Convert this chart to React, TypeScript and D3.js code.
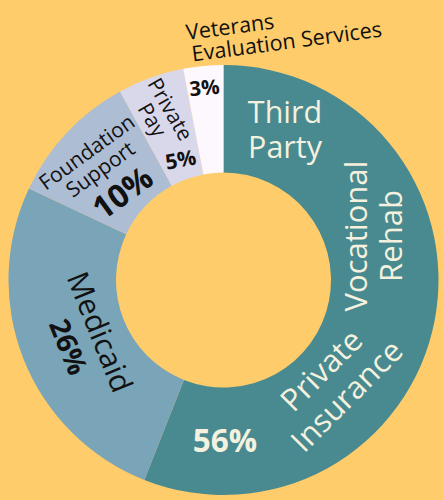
import { useEffect, useRef } from 'react';
import * as d3 from 'd3';

// funding sources, share of total (%)
const categories = ['Third Party', 'Medicaid', 'Foundation Support', 'Private Pay', 'Veterans Evaluation Services'];
const values = [56, 26, 10, 5, 3];
const colors = ['#488a90', '#7aa4b7', '#adbdd4', '#d9d8ea', '#fdf8fd'];

const W = 443;
const H = 500;
const BG = '#fecc6a';
const CREAM = '#f4f1df';
const INK = '#111111';

interface Line {
  text: string;
  dx?: number;
  dy: number;
  size: number;
  bold?: boolean;
}

interface Label {
  x: number;
  y: number;
  rotate: number;
  anchor: string;
  fill: string;
  lines: Line[];
}

// hand placed annotations
const labels: Label[] = [
  { x: 285, y: 123, rotate: 0, anchor: 'middle', fill: CREAM,
    lines: [{ text: 'Third', dy: 0, size: 30.5 }, { text: 'Party', dy: 35, size: 30.5 }] },
  { x: 367, y: 236, rotate: -90, anchor: 'middle', fill: CREAM,
    lines: [{ text: 'Vocational', dy: 0, size: 31 }, { text: 'Rehab', dy: 35, size: 31 }] },
  { x: 329, y: 378, rotate: -45, anchor: 'middle', fill: CREAM,
    lines: [{ text: 'Private', dy: 0, size: 31 }, { text: 'Insurance', dy: 36, size: 31 }] },
  { x: 225, y: 452, rotate: 0, anchor: 'middle', fill: CREAM,
    lines: [{ text: '56%', dy: 0, size: 31.5, bold: true }] },
  { x: 90, y: 336, rotate: 68, anchor: 'middle', fill: INK,
    lines: [{ text: 'Medicaid', dy: 0, size: 30 }, { text: '26%', dx: 2, dy: 34, size: 28, bold: true }] },
  { x: 91, y: 158, rotate: -36, anchor: 'middle', fill: INK,
    lines: [
      { text: 'Foundation', dy: 0, size: 21 },
      { text: 'Support', dx: 1, dy: 22, size: 21 },
      { text: '10%', dx: 5, dy: 58, size: 32, bold: true },
    ] },
  { x: 164, y: 113, rotate: 60, anchor: 'middle', fill: INK,
    lines: [{ text: 'Private', dy: 0, size: 21 }, { text: 'Pay', dy: 21, size: 21 }] },
  { x: 182, y: 167, rotate: -10, anchor: 'middle', fill: INK,
    lines: [{ text: '5%', dy: 0, size: 21, bold: true }] },
  { x: 205, y: 95, rotate: -5, anchor: 'middle', fill: INK,
    lines: [{ text: '3%', dy: 0, size: 20.5, bold: true }] },
  { x: 187, y: 40, rotate: -7.5, anchor: 'start', fill: INK,
    lines: [{ text: 'Veterans', dy: 0, size: 21.5 }, { text: 'Evaluation Services', dx: 3, dy: 22, size: 21.5 }] },
];

export default function App() {
  const svgRef = useRef<SVGSVGElement>(null);

  useEffect(() => {
    if (!svgRef.current) return;
    const svg = d3.select(svgRef.current);
    svg.selectAll('*').remove();

    svg.append('rect').attr('width', W).attr('height', H).attr('fill', BG);

    const cx = 223.5;
    const cy = 280;
    const outer = 215;
    const inner = 107.5;

    const pie = d3.pie<number>().sort(null).value(d => d);
    const arc = d3.arc<d3.PieArcDatum<number>>().innerRadius(inner).outerRadius(outer);

    const g = svg.append('g').attr('transform', `translate(${cx},${cy})`);
    g.selectAll('path')
      .data(pie(values))
      .enter()
      .append('path')
      .attr('d', arc)
      .attr('fill', (_, i) => colors[i])
      .append('title')
      .text((d, i) => `${categories[i]}: ${d.data}%`);

    // one <text> per label, lines as tspans
    const lg = svg.append('g').style('font-family', '"Open Sans", sans-serif');
    labels.forEach(l => {
      const t = lg.append('text')
        .attr('transform', `translate(${l.x},${l.y}) rotate(${l.rotate})`)
        .attr('text-anchor', l.anchor)
        .attr('fill', l.fill);
      l.lines.forEach(ln => {
        t.append('tspan')
          .attr('x', ln.dx || 0)
          .attr('y', ln.dy)
          .style('font-size', `${ln.size}px`)
          .style('font-weight', ln.bold ? 700 : 400)
          .text(ln.text);
      });
    });
  }, []);

  return (
    <div style={{ position: 'fixed', left: 0, top: 0 }}>
      <svg ref={svgRef} width={W} height={H} style={{ display: 'block' }} />
    </div>
  );
}
